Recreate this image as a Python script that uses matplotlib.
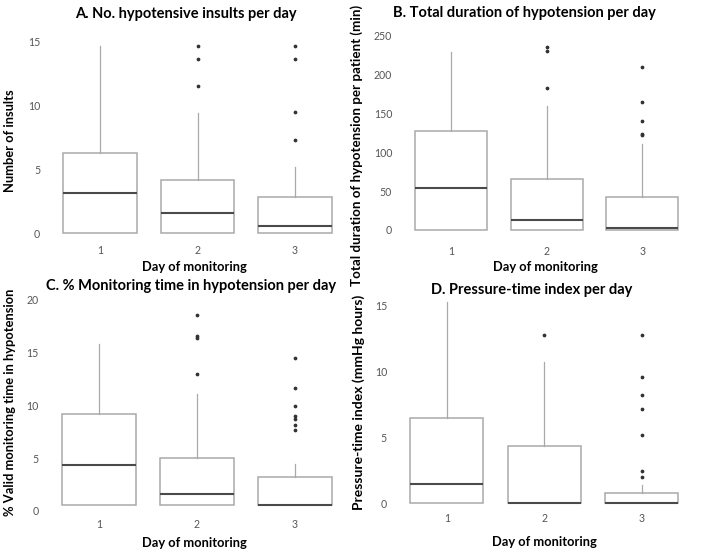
import matplotlib
matplotlib.use("Agg")
import matplotlib.pyplot as plt

plt.rcParams["font.family"] = ["Lato", "DejaVu Sans"]

W, H = 702, 552

days = [1, 2, 3]
day_labels = ["1", "2", "3"]

# A. number of hypotensive insults per day
insults_q1 = [0, 0, 0]
insults_med = [3.15, 1.6, 0.55]
insults_q3 = [6.3, 4.2, 2.85]
insults_whi = [14.65, 9.4, 5.2]
insults_out = [[], [14.65, 13.6, 11.5], [14.65, 13.6, 9.45, 7.3]]

# B. total duration of hypotension (min)
duration_q1 = [0, 0, 0]
duration_med = [53.6, 12.5, 3]
duration_q3 = [127.6, 66, 42.8]
duration_whi = [229, 159, 111]
duration_out = [[], [235.6, 230, 182], [209, 165, 140.5, 124, 121.7]]

# C. % valid monitoring time in hypotension
pct_q1 = [0.54, 0.5, 0.5]
pct_med = [4.33, 1.55, 0.5]
pct_q3 = [9.2, 5.0, 3.2]
pct_whi = [15.8, 11.1, 4.45]
pct_out = [[], [18.6, 16.55, 16.4, 13.0], [14.5, 11.6, 9.9, 9.0, 8.7, 8.1, 7.65]]

# D. pressure-time index (mmHg hours)
pti_q1 = [0, 0, 0]
pti_med = [1.44, 0, 0]
pti_q3 = [6.46, 4.3, 0.72]
pti_whi = [15.25, 10.7, 1.36]
pti_out = [[], [12.75], [12.75, 9.55, 8.2, 7.1, 5.15, 2.4, 1.95]]

fig = plt.figure(figsize=(W / 100, H / 100), dpi=100)


def make_axes(xpix, ypix, ylim):
    (v0, p0), (v1, p1) = ypix
    s = (p0 - p1) / (v1 - v0)
    top = p1 - (ylim[1] - v1) * s
    bot = p0 + (v0 - ylim[0]) * s
    half = (xpix[1] - xpix[0]) / 4
    left, right = xpix[0] - half, xpix[1] + half
    ax = fig.add_axes([left / W, 1 - bot / H, (right - left) / W, (bot - top) / H])
    ax.set_xlim(0.5, 3.5)
    ax.set_ylim(*ylim)
    return ax


def draw(ax, q1, med, q3, whi, out, yticks, xpad):
    stats = []
    for i in range(3):
        stats.append(dict(med=med[i], q1=q1[i], q3=q3[i], whislo=q1[i],
                          whishi=whi[i], fliers=out[i]))
    ax.bxp(stats, positions=days, widths=0.75, showcaps=False, patch_artist=True,
           boxprops=dict(facecolor="white", edgecolor="#a9a9a9", linewidth=1.1),
           whiskerprops=dict(color="#a9a9a9", linewidth=0.9),
           medianprops=dict(color="#4a4a4a", linewidth=1.5),
           flierprops=dict(marker="o", markersize=1.7, markerfacecolor="#333333",
                           markeredgecolor="#333333"))
    for sp in ax.spines.values():
        sp.set_visible(False)
    ax.set_xticks(days)
    ax.set_xticklabels(day_labels)
    ax.set_yticks(yticks)
    ax.tick_params(axis="both", length=0, labelsize=7.6, labelcolor="#555555")
    ax.tick_params(axis="x", pad=xpad)
    ax.tick_params(axis="y", pad=8)


axA = make_axes((100, 295), ((0, 233.3), (15, 41.3)), (-0.5, 15.5))
draw(axA, insults_q1, insults_med, insults_q3, insults_whi, insults_out, [0, 5, 10, 15], 4)

axB = make_axes((451, 642.3), ((0, 230), (250, 35.5)), (-5, 255))
draw(axB, duration_q1, duration_med, duration_q3, duration_whi, duration_out,
     [0, 50, 100, 150, 200, 250], 8.5)

axC = make_axes((99, 295), ((0, 510.7), (20, 300)), (-0.5, 20.5))
draw(axC, pct_q1, pct_med, pct_q3, pct_whi, pct_out, [0, 5, 10, 15, 20], 2)

axD = make_axes((446.8, 641.8), ((0, 503), (15, 305)), (-0.5, 15.5))
draw(axD, pti_q1, pti_med, pti_q3, pti_whi, pti_out, [0, 5, 10, 15], 2.5)


def ftext(x, y, s, **kw):
    fig.text(x / W, 1 - y / H, s, ha="center", va="center", fontweight="bold", **kw)


ftext(186, 14, "A. No. hypotensive insults per day", fontsize=10.5)
ftext(524, 13.5, "B. Total duration of hypotension per day", fontsize=10.5)
ftext(191, 286, "C. % Monitoring time in hypotension per day", fontsize=10.5)
ftext(531.5, 289.5, "D. Pressure-time index per day", fontsize=10.5)

ftext(194, 267, "Day of monitoring", fontsize=9.3)
ftext(545, 267, "Day of monitoring", fontsize=9.3)
ftext(194, 543, "Day of monitoring", fontsize=9.3)
ftext(544, 542, "Day of monitoring", fontsize=9.3)

ftext(10, 141, "Number of insults", rotation=90, fontsize=9.3)
ftext(357, 145, "Total duration of hypotension per patient (min)", rotation=90, fontsize=9.6)
ftext(10, 402, "% Valid monitoring time in hypotension", rotation=90, fontsize=9.3)
ftext(359, 402, "Pressure-time index (mmHg hours)", rotation=90, fontsize=10)

fig.savefig("out.png", dpi=100, facecolor="white")
